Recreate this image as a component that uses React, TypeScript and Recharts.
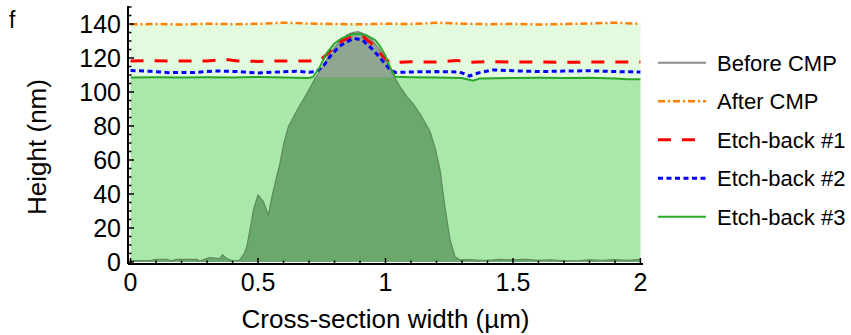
import React from 'react';
import { ComposedChart, Area, Line, XAxis, YAxis } from 'recharts';

const FONT = '"Liberation Sans", Arial, Helvetica, sans-serif';

// ---------- data (x in µm, height in nm) ----------
const beforeCMP: [number, number][] = [
  [0, 0.8], [0.04, 0.8], [0.08, 0.9], [0.1, 1.6], [0.14, 1.6], [0.16, 0.6], [0.18, 1.5], [0.22, 1.6], [0.26, 1.5], [0.27, 0.5],
  [0.29, 1.5], [0.31, 2.5], [0.33, 2.3], [0.35, 2.0], [0.36, 4.2], [0.38, 1.8], [0.4, 0.7], [0.42, 0.7], [0.43, 1.5], [0.446, 5],
  [0.456, 9], [0.47, 20], [0.482, 30.6], [0.5, 39.4], [0.521, 35.5], [0.54, 27.6], [0.56, 42], [0.586, 58], [0.6, 69], [0.619, 79.6],
  [0.652, 89], [0.691, 99], [0.724, 108], [0.75, 114], [0.782, 122.8], [0.815, 129], [0.848, 133.5], [0.87, 135], [0.893, 135.5], [0.91, 134.5],
  [0.926, 133.5], [0.95, 130], [0.978, 124.7], [1.005, 118], [1.031, 110], [1.057, 103], [1.085, 97], [1.109, 93], [1.14, 86], [1.175, 76.6],
  [1.195, 67], [1.214, 54], [1.233, 32.5], [1.253, 13], [1.273, 3], [1.292, 1.2], [1.32, 1.4], [1.36, 1.1], [1.4, 1.0], [1.45, 1.5],
  [1.5, 1.2], [1.55, 1.6], [1.6, 1.0], [1.65, 1.3], [1.7, 0.6], [1.75, 0.7], [1.8, 1.3], [1.85, 1.0], [1.9, 1.4], [1.95, 0.9], [2.0, 1.5],
];

const afterCMP: [number, number][] = [
  [0, 139.8], [0.1, 140.0], [0.2, 139.7], [0.3, 140.2], [0.4, 139.9], [0.5, 140.1], [0.6, 140.8], [0.7, 140.3], [0.8, 140.0], [0.9, 139.8],
  [1.0, 140.2], [1.1, 140.0], [1.2, 140.8], [1.3, 140.2], [1.4, 139.9], [1.5, 140.1], [1.6, 139.7], [1.7, 140.0], [1.8, 140.3], [1.9, 140.8], [2.0, 140.1],
];

const etchBack1: [number, number][] = [
  [0, 118.3], [0.1, 118.4], [0.2, 118.2], [0.3, 118.3], [0.37, 119.2], [0.42, 118.3], [0.5, 118.0], [0.6, 118.3], [0.7, 118.2], [0.745, 119],
  [0.769, 122], [0.8, 127], [0.835, 130.6], [0.87, 132.5], [0.913, 132.5], [0.95, 128], [0.991, 120.8], [1.018, 117.2], [1.06, 117.5], [1.1, 117.8],
  [1.2, 117.6], [1.28, 118.6], [1.32, 117.5], [1.4, 117.8], [1.5, 117.6], [1.6, 117.7], [1.7, 117.5], [1.8, 117.6], [1.9, 117.7], [2.0, 117.6],
];

const etchBack2: [number, number][] = [
  [0, 112.6], [0.08, 112.2], [0.15, 111.4], [0.25, 111.5], [0.33, 112.4], [0.42, 112.0], [0.5, 111.2], [0.58, 111.8], [0.65, 112.2], [0.7, 111.6],
  [0.73, 112], [0.76, 116], [0.782, 120.8], [0.82, 127], [0.874, 131.6], [0.91, 130.5], [0.952, 124.7], [0.985, 119], [1.018, 113], [1.04, 111.5],
  [1.1, 111.8], [1.2, 112], [1.29, 111.8], [1.33, 109.4], [1.36, 111], [1.42, 113], [1.5, 112.5], [1.6, 112], [1.7, 112.3], [1.8, 112.5], [1.9, 112], [2.0, 111.8],
];

const etchBack3: [number, number][] = [
  [0, 108.6], [0.1, 108.7], [0.2, 108.6], [0.3, 108.7], [0.4, 108.5], [0.5, 108.8], [0.6, 108.6], [0.7, 108.2], [0.717, 109], [0.74, 114],
  [0.769, 122.8], [0.8, 128.5], [0.828, 131.6], [0.867, 134], [0.9, 134.3], [0.93, 133], [0.959, 130.6], [0.98, 126.5], [0.998, 121.8], [1.02, 114],
  [1.037, 109], [1.1, 108.7], [1.2, 108.5], [1.3, 108.2], [1.32, 107.5], [1.344, 106.7], [1.37, 108], [1.5, 108.3], [1.6, 108.4], [1.7, 108.2],
  [1.8, 108.4], [1.9, 108], [1.95, 107.5], [2.0, 107.5],
];
// level of the etch-back #3 shaded film (flat under the peak)
const etch3FillLevel = 108.7;

const xTicks = [0, 0.1, 0.2, 0.3, 0.4, 0.5, 0.6, 0.7, 0.8, 0.9, 1, 1.1, 1.2, 1.3, 1.4, 1.5, 1.6, 1.7, 1.8, 1.9, 2];
const xTickLabels = [0, 0.5, 1, 1.5, 2];
const yTicks = [0, 5, 10, 15, 20, 25, 30, 35, 40, 45, 50, 55, 60, 65, 70, 75, 80, 85, 90, 95, 100, 105, 110, 115, 120, 125, 130, 135, 140, 145, 150];
const yTickLabels = [0, 20, 40, 60, 80, 100, 120, 140];

const X_DOMAIN: [number, number] = [-0.01, 2.01];
const Y_DOMAIN: [number, number] = [-1.2, 150.6];

const toRows = (pts: [number, number][]) => pts.map(([x, y]) => ({ x, y }));
const beforeRows = toRows(beforeCMP);
const afterRows = toRows(afterCMP);
const e1Rows = toRows(etchBack1);
const e2Rows = toRows(etchBack2);
const e3Rows = toRows(etchBack3);
const e3FillRows = etchBack3.map(([x, y]) => ({ x, y: Math.min(y, etch3FillLevel) }));

const COLORS = {
  before: '#8a8a8a',
  after: '#ff7f00',
  e1: '#ff0000',
  e2: '#0000ff',
  e3: '#2aa82a',
};
const DASH = {
  after: '7 3 2 3',
  e1: '13 11',
  e2: '5 3.5',
};

const TICK_FS = 25;

const isIn = (arr: number[], v: number) => arr.some((a) => Math.abs(a - v) < 1e-6);

function BottomTick(props: any) {
  const { x, y, payload } = props;
  const v = payload.value;
  const major = isIn(xTickLabels, v);
  return (
    <g>
      <line x1={x} x2={x} y1={y} y2={y - (major ? 6 : 3.5)} stroke="#000" strokeWidth={1.5} />
      {major && (
        <text x={x} y={y + 27} textAnchor="middle" fontSize={TICK_FS} fontFamily={FONT} fill="#000">
          {String(v)}
        </text>
      )}
    </g>
  );
}
function TopTick(props: any) {
  const { x, y, payload } = props;
  const major = isIn(xTickLabels, payload.value);
  return <line x1={x} x2={x} y1={y} y2={y + (major ? 6 : 3.5)} stroke="#000" strokeWidth={1.5} />;
}
function LeftTick(props: any) {
  const { x, y, payload } = props;
  const v = payload.value;
  const major = isIn(yTickLabels, v);
  return (
    <g>
      <line x1={x} x2={x + (major ? 6 : 3.5)} y1={y} y2={y} stroke="#000" strokeWidth={1.5} />
      {major && (
        <text x={x - 7} y={y + 9} textAnchor="end" fontSize={TICK_FS} fontFamily={FONT} fill="#000">
          {String(v)}
        </text>
      )}
    </g>
  );
}
function RightTick(props: any) {
  const { x, y, payload } = props;
  const major = isIn(yTickLabels, payload.value);
  return <line x1={x} x2={x - (major ? 6 : 3.5)} y1={y} y2={y} stroke="#000" strokeWidth={1.5} />;
}

const legendItems = [
  { name: 'Before CMP', color: COLORS.before, dash: undefined as string | undefined, width: 2 },
  { name: 'After CMP', color: COLORS.after, dash: DASH.after, width: 2.5 },
  { name: 'Etch-back #1', color: COLORS.e1, dash: DASH.e1, width: 3 },
  { name: 'Etch-back #2', color: COLORS.e2, dash: DASH.e2, width: 3 },
  { name: 'Etch-back #3', color: COLORS.e3, dash: undefined as string | undefined, width: 2 },
];

function Overlay() {
  return (
    <svg width={851} height={335} style={{ position: 'absolute', left: 0, top: 0, pointerEvents: 'none' }}>
      <text x={9} y={28} fontSize={23} fontFamily={FONT} fill="#000">f</text>
      <text transform="translate(46,147) rotate(-90)" textAnchor="middle" fontSize={26} fontFamily={FONT} fill="#000">
        Height (nm)
      </text>
      <text x={385.5} y={328} textAnchor="middle" fontSize={26} fontFamily={FONT} fill="#000">
        Cross-section width (µm)
      </text>
      {legendItems.map((it, i) => {
        const cy = 62.7 + i * 38.5;
        return (
          <g key={it.name}>
            <line x1={658} x2={706} y1={cy} y2={cy} stroke={it.color} strokeWidth={it.width} strokeDasharray={it.dash} />
            <text x={717} y={cy + 8} fontSize={22} fontFamily={FONT} fill="#000">
              {it.name}
            </text>
          </g>
        );
      })}
    </svg>
  );
}

export default function App() {
  return (
    <div style={{ position: 'absolute', left: 0, top: 0, width: 851, height: 335, background: '#fff' }}>
      <ComposedChart width={851} height={335} margin={{ top: 6, right: 208, bottom: 0, left: 0 }}>
        <XAxis
          dataKey="x"
          type="number"
          domain={X_DOMAIN}
          allowDataOverflow
          ticks={xTicks}
          interval={0}
          height={71}
          tickSize={0}
          tickMargin={0}
          tickLine={false}
          axisLine={{ stroke: '#000', strokeWidth: 2 }}
          tick={<BottomTick />}
        />
        <XAxis
          xAxisId="top"
          orientation="top"
          dataKey="x"
          type="number"
          domain={X_DOMAIN}
          allowDataOverflow
          ticks={xTicks}
          interval={0}
          height={0}
          tickSize={0}
          tickMargin={0}
          tickLine={false}
          axisLine={{ stroke: '#000', strokeWidth: 2 }}
          tick={<TopTick />}
        />
        <YAxis
          type="number"
          domain={Y_DOMAIN}
          allowDataOverflow
          ticks={yTicks}
          interval={0}
          width={128}
          tickSize={0}
          tickMargin={0}
          tickLine={false}
          axisLine={{ stroke: '#000', strokeWidth: 2 }}
          tick={<LeftTick />}
        />
        <YAxis
          yAxisId="right"
          orientation="right"
          type="number"
          domain={Y_DOMAIN}
          allowDataOverflow
          ticks={yTicks}
          interval={0}
          width={0}
          tickSize={0}
          tickMargin={0}
          tickLine={false}
          axisLine={{ stroke: '#000', strokeWidth: 2 }}
          tick={<RightTick />}
        />

        <Area data={afterRows} dataKey="y" type="linear" fill="#e2fbdf" fillOpacity={1} stroke="none" isAnimationActive={false} />
        <Area data={beforeRows} dataKey="y" type="linear" fill="#8fa68f" fillOpacity={1} stroke="#7c7c7c" strokeWidth={1.2} isAnimationActive={false} />
        <Area data={e3FillRows} dataKey="y" type="linear" fill="rgb(0,175,4)" fillOpacity={0.25} stroke="none" isAnimationActive={false} />

        <Line data={afterRows} dataKey="y" type="linear" stroke={COLORS.after} strokeWidth={2.5} strokeDasharray={DASH.after} dot={false} isAnimationActive={false} />
        <Line data={e1Rows} dataKey="y" type="linear" stroke={COLORS.e1} strokeWidth={3} strokeDasharray={DASH.e1} dot={false} isAnimationActive={false} />
        <Line data={e2Rows} dataKey="y" type="linear" stroke={COLORS.e2} strokeWidth={3} strokeDasharray={DASH.e2} dot={false} isAnimationActive={false} />
        <Line data={e3Rows} dataKey="y" type="linear" stroke={COLORS.e3} strokeWidth={2} dot={false} isAnimationActive={false} />
      </ComposedChart>
      <Overlay />
    </div>
  );
}
